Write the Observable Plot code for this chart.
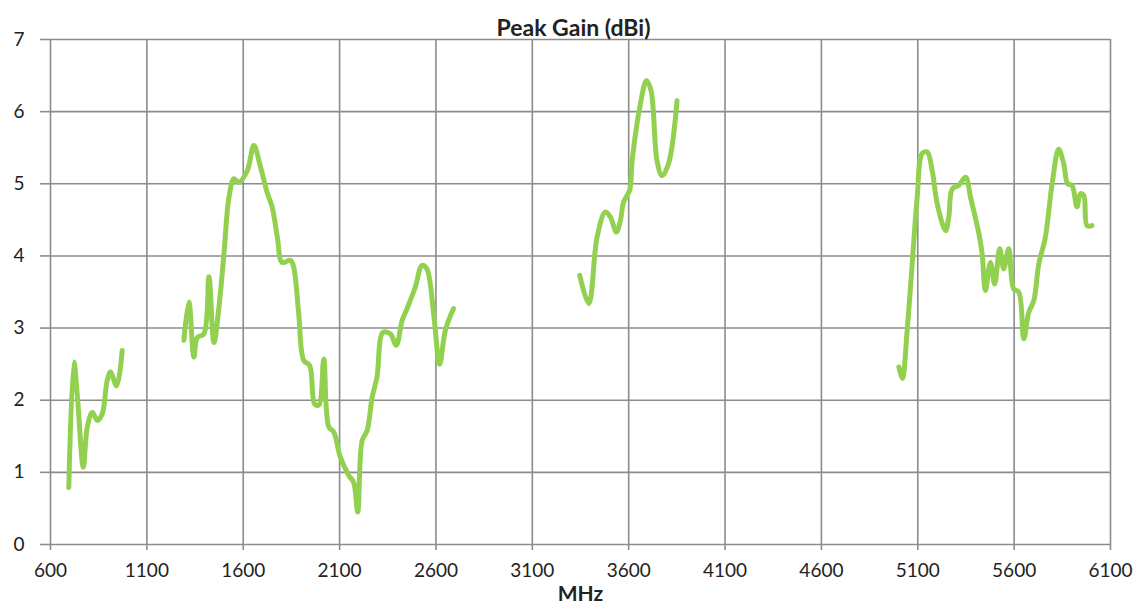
<!DOCTYPE html>
<html>
<head>
<meta charset="utf-8">
<script src="https://cdn.jsdelivr.net/npm/d3@7"></script>
<script src="https://cdn.jsdelivr.net/npm/@observablehq/plot@0.6"></script>
<style>
  html, body { margin: 0; padding: 0; background: #fff; }
  #chart svg { display: block; }
</style>
</head>
<body>
<div id="chart"></div>
<script>
// Peak gain (dBi) vs frequency (MHz), four measured bands
const band1Freq = [695, 721, 741, 770, 791, 817, 843, 868, 894, 911, 943, 972];
const band1Gain = [0.79, 2.53, 2.0, 1.07, 1.63, 1.83, 1.72, 1.81, 2.27, 2.39, 2.2, 2.69];

const band2Freq = [1292, 1318, 1344, 1362, 1396, 1422, 1448, 1474, 1500, 1526, 1552, 1577, 1621, 1655, 1690, 1724, 1750, 1777, 1802, 1845, 1862, 1888, 1914, 1945, 1970, 1992, 2018, 2044, 2070, 2104, 2147, 2173, 2194, 2217, 2243, 2269, 2294, 2325, 2363, 2394, 2424, 2450, 2493, 2528, 2553, 2588, 2619, 2649, 2691];
const band2Gain = [2.83, 3.36, 2.6, 2.87, 2.92, 3.71, 2.8, 3.29, 4.03, 4.81, 5.07, 5.02, 5.18, 5.53, 5.23, 4.88, 4.68, 4.26, 3.91, 3.94, 3.84, 3.2, 2.55, 2.48, 1.95, 1.93, 2.57, 1.63, 1.56, 1.21, 0.96, 0.86, 0.45, 1.44, 1.58, 2.04, 2.32, 2.94, 2.92, 2.76, 3.1, 3.27, 3.57, 3.87, 3.82, 3.2, 2.5, 2.97, 3.27];

const band3Freq = [3346, 3393, 3436, 3479, 3505, 3536, 3557, 3574, 3605, 3618, 3661, 3692, 3716, 3747, 3773, 3807, 3851];
const band3Gain = [3.73, 3.34, 4.26, 4.61, 4.54, 4.33, 4.49, 4.75, 4.91, 5.32, 6.11, 6.43, 6.29, 5.32, 5.11, 5.28, 6.15];

const band4Freq = [5002, 5020, 5045, 5071, 5097, 5123, 5149, 5175, 5201, 5244, 5261, 5279, 5313, 5348, 5374, 5417, 5434, 5451, 5477, 5499, 5525, 5546, 5572, 5598, 5624, 5650, 5676, 5702, 5728, 5762, 5797, 5831, 5857, 5878, 5900, 5926, 5943, 5961, 5978, 6004];
const band4Gain = [2.46, 2.3, 2.97, 3.89, 4.81, 5.42, 5.44, 5.18, 4.72, 4.35, 4.54, 4.93, 4.98, 5.09, 4.81, 4.31, 4.03, 3.52, 3.91, 3.61, 4.1, 3.82, 4.1, 3.54, 3.5, 2.85, 3.22, 3.38, 3.89, 4.26, 5.0, 5.48, 5.28, 5.0, 4.98, 4.68, 4.86, 4.84, 4.42, 4.42];

const xTicks = [600, 1100, 1600, 2100, 2600, 3100, 3600, 4100, 4600, 5100, 5600, 6100];
const yTicks = [0, 1, 2, 3, 4, 5, 6, 7];
const titleText = "Peak Gain (dBi)";
const xLabel = "MHz";

const bands = [
  ["b1", band1Freq, band1Gain],
  ["b2", band2Freq, band2Gain],
  ["b3", band3Freq, band3Gain],
  ["b4", band4Freq, band4Gain]
];
const rows = bands.flatMap(([id, f, g]) => f.map((v, i) => ({band: id, freq: v, gain: g[i]})));

const font = "Lato, 'Open Sans', sans-serif";
const gridColor = "#8c8c8c";

const chart = Plot.plot({
  width: 1141,
  height: 614,
  marginLeft: 50,
  marginRight: 31,
  marginTop: 39,
  marginBottom: 70,
  style: {fontFamily: font, fontSize: "19px", color: "#222", background: "#fff"},
  x: {domain: [600, 6100]},
  y: {domain: [0, 7]},
  marks: [
    Plot.ruleX(xTicks, {stroke: gridColor, strokeWidth: 1.6}),
    Plot.ruleY(yTicks, {stroke: gridColor, strokeWidth: 1.6}),
    Plot.axisX({ticks: xTicks, tickFormat: d => String(d), tickSize: 6, tickPadding: 13, stroke: gridColor, strokeWidth: 1.6, label: null, fontSize: 19}),
    Plot.axisY({ticks: yTicks, tickFormat: d => String(d), tickSize: 10, tickPadding: 16, stroke: gridColor, strokeWidth: 1.6, label: null, fontSize: 19}),
    Plot.line(rows, {x: "freq", y: "gain", z: "band", stroke: "#92D050", strokeWidth: 5, curve: "catmull-rom", strokeLinejoin: "round", strokeLinecap: "round"}),
    Plot.text([titleText], {frameAnchor: "top", dx: -7, dy: -20, fontWeight: "bold", fontSize: 23, fill: "#222"}),
    Plot.text([xLabel], {frameAnchor: "bottom", dy: 56, fontWeight: "bold", fontSize: 21, fill: "#222"})
  ]
});
document.getElementById("chart").appendChild(chart);
</script>
</body>
</html>
